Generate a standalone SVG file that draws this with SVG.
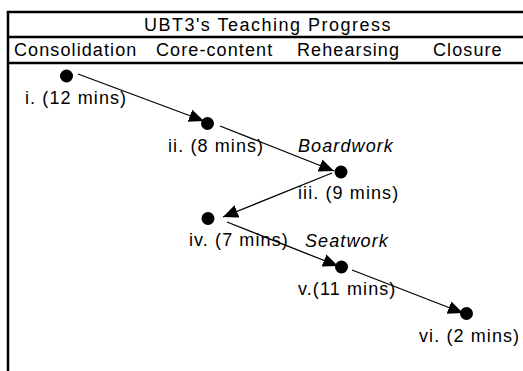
<svg xmlns="http://www.w3.org/2000/svg" width="523" height="371" viewBox="0 0 523 371">
<style>
text{font-family:"Liberation Sans",Arial,sans-serif;font-size:18px;letter-spacing:1.1px;fill:#000}
.it{font-style:italic}
.frame{stroke:#000;stroke-width:2.5;fill:none}
.edge{stroke:#000;stroke-width:1.3;fill:none;marker-end:url(#ah)}
.dot{fill:#000}
</style>
<defs>
<marker id="ah" markerUnits="userSpaceOnUse" markerWidth="16" markerHeight="14" refX="15" refY="6.5" orient="auto">
<path d="M0,0 L15,6.5 L0,13 z" fill="#000"/>
</marker>
</defs>
<rect width="523" height="371" fill="#fff"/>
<g id="frame">
<line class="frame" x1="6.75" y1="12" x2="523" y2="12"/>
<line class="frame" x1="8" y1="12" x2="8" y2="371"/>
<line class="frame" x1="8" y1="37" x2="523" y2="37"/>
<line class="frame" x1="8" y1="63" x2="523" y2="63"/>
<text x="268" y="31" text-anchor="middle" style="letter-spacing:1.5px">UBT3's Teaching Progress</text>
<text x="14" y="56">Consolidation</text>
<text x="156" y="56">Core-content</text>
<text x="297" y="56">Rehearsing</text>
<text x="433" y="56">Closure</text>
</g>
<g id="connectors">
<line class="edge" x1="78" y1="74" x2="204" y2="121"/>
<line class="edge" x1="220" y1="126" x2="334" y2="171"/>
<line class="edge" x1="332" y1="173" x2="223" y2="217"/>
<line class="edge" x1="227" y1="222" x2="338" y2="266"/>
<line class="edge" x1="352" y1="270" x2="463" y2="313"/>
</g>
<g id="n1"><circle class="dot" cx="66.5" cy="76" r="6.5"/><text x="25" y="104">i. (12 mins)</text></g>
<g id="n2"><circle class="dot" cx="207.5" cy="123.5" r="6.5"/><text x="168" y="152">ii. (8 mins)</text></g>
<g id="n3"><circle class="dot" cx="341" cy="172" r="6.5"/><text x="298" y="199">iii. (9 mins)</text></g>
<g id="n4"><circle class="dot" cx="208" cy="218.5" r="6.5"/><text x="189" y="246">iv. (7 mins)</text></g>
<g id="n5"><circle class="dot" cx="341.5" cy="267" r="6.5"/><text x="298" y="295">v.(11 mins)</text></g>
<g id="n6"><circle class="dot" cx="466.5" cy="313.5" r="6.5"/><text x="419" y="342">vi. (2 mins)</text></g>
<g id="lbl-boardwork"><text class="it" x="298" y="152">Boardwork</text></g>
<g id="lbl-seatwork"><text class="it" x="305" y="247">Seatwork</text></g>
</svg>
